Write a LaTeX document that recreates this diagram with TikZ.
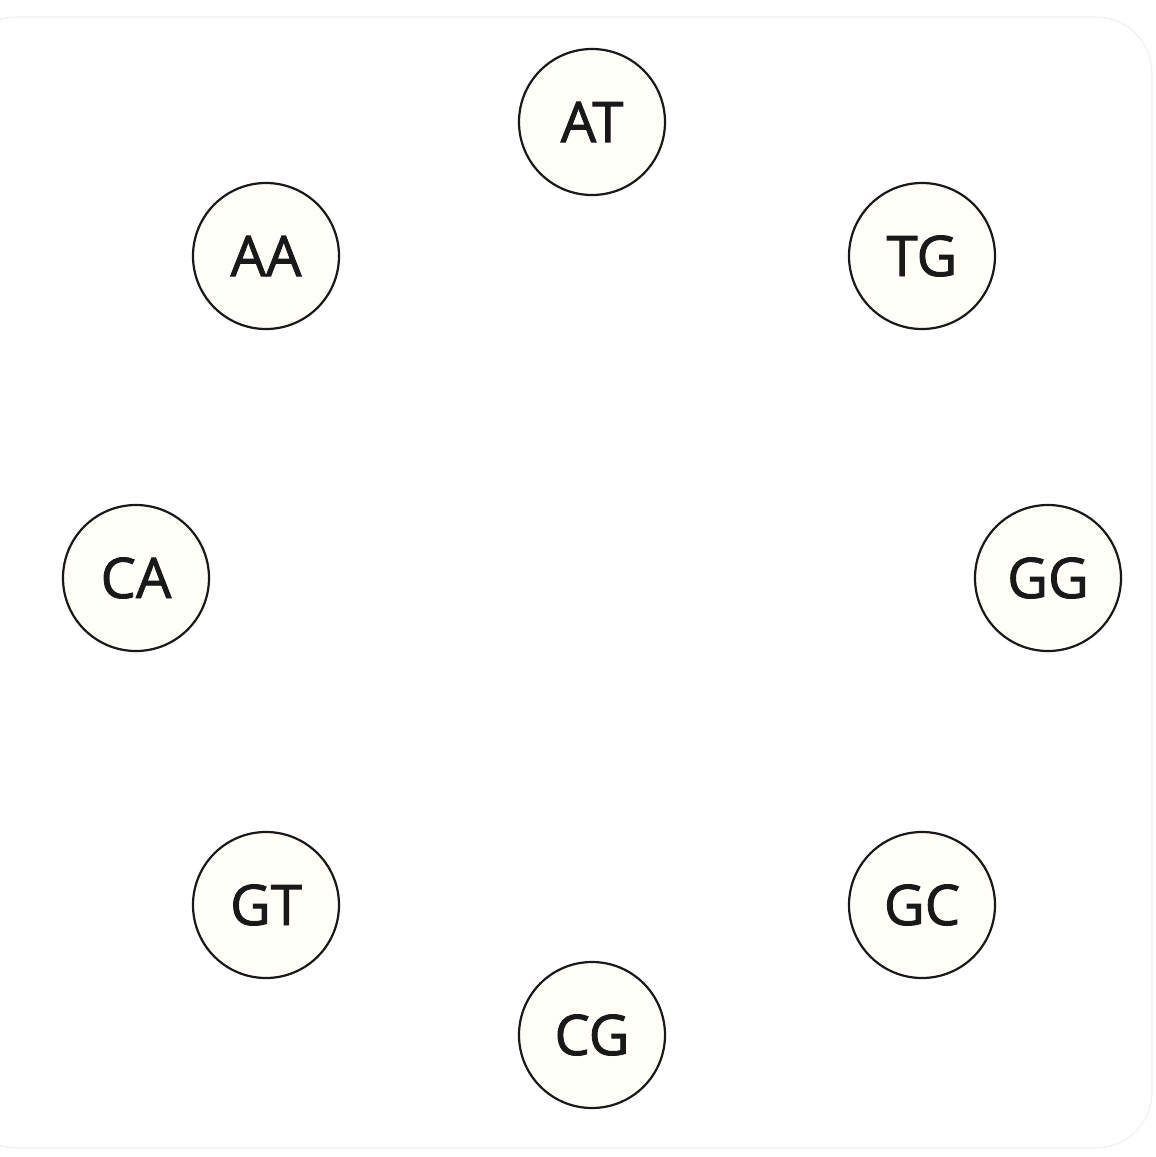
\documentclass[tikz,border=0pt]{standalone}
\usepackage{fontspec}
\setmainfont{Open Sans}
\newfontfamily\nodefont[UprightFeatures={FakeBold=1.6}]{Open Sans}
\definecolor{nodefill}{HTML}{FFFEF8}
\definecolor{framecol}{HTML}{F0F0EC}
\begin{document}
\begin{tikzpicture}[x=0.5pt,y=-0.5pt,
  state/.style={circle,draw=black!90,line width=1.1pt,fill=nodefill,minimum size=73pt,inner sep=0pt,
    font=\nodefont\fontsize{28}{30}\selectfont,text=black!90}]
\useasboundingbox (0,0) rectangle (1156,1157);
\draw[framecol,line width=0.6pt,rounded corners=28pt] (-40,17) rectangle (1152,1148);
\node[state] (AT) at (592,122) {AT};
\node[state] (TG) at (922,256) {TG};
\node[state] (GG) at (1048,578) {GG};
\node[state] (GC) at (922,905) {GC};
\node[state] (CG) at (592,1035) {CG};
\node[state] (GT) at (266,905) {GT};
\node[state] (CA) at (136,578) {CA};
\node[state] (AA) at (266,256) {AA};
\end{tikzpicture}
\end{document}
